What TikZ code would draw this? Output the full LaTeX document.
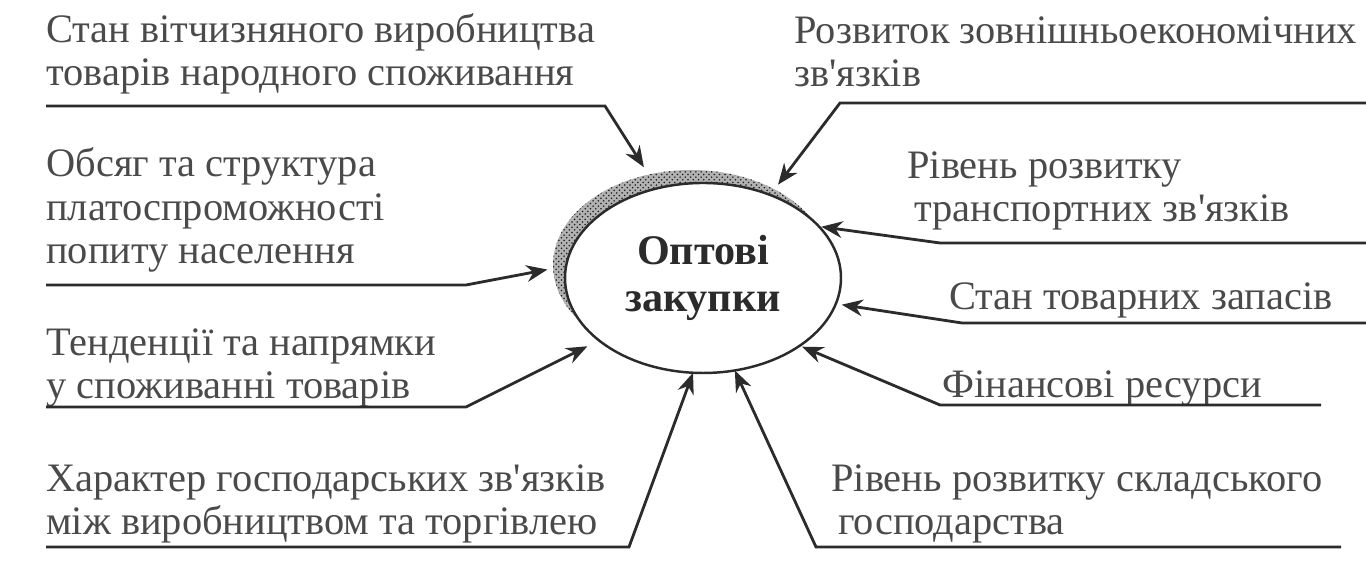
\documentclass[tikz,border=0pt]{standalone}
\usepackage{fontspec}
\setmainfont{Liberation Serif}
\usepackage{xcolor}
\usepackage{tikz}
\usetikzlibrary{positioning,arrows.meta,shapes.geometric,patterns}
\definecolor{ink}  {HTML}{2B2B2B}
\definecolor{ink2} {HTML}{4A4A4A}
\definecolor{dotc} {HTML}{1E1E1E}
\newcommand\apo{\textquotesingle}
\tikzset{
  hub/.style    = {ellipse, draw=ink, line width=1.4pt, fill=white,
                   minimum width=55.2mm, minimum height=38mm, inner sep=0pt,
                   outer sep=0pt, align=center, text=ink,
                   font=\fontsize{24}{27}\selectfont\bfseries},
  halo/.style   = {ellipse, draw=none, preaction={fill=black!30},
                   pattern=crosshatch dots, pattern color=dotc,
                   minimum width=55.2mm, minimum height=38mm, inner sep=0pt},
  factor/.style = {anchor=base west, align=left, inner sep=0pt, text=ink2,
                   font=\fontsize{23}{24.8}\selectfont},
  flow/.style   = {-{Stealth[length=12pt,width=9.5pt]}, draw=ink, line width=1.6pt},
}
\begin{document}
\begin{tikzpicture}
  \useasboundingbox (0,0) rectangle (27.32,11.24);

  % centre
  \coordinate (mid) at (14.06,5.68);
  \node[halo] (shd) at ([shift={(-0.24,0.26)}]mid) {};
  \node[hub] (ell) at (mid) {Оптові\\закупки};

  % left factors
  \node[factor] (f1) at (0.92,9.52) {Стан вітчизняного виробництва\\товарів народного споживання};
  \node[factor] (f2) at (0.92,5.96) {Обсяг та структура\\платоспроможності\\попиту населення};
  \node[factor] (f3) at (0.92,3.26) {Тенденції та напрямки\\у споживанні товарів};
  \node[factor] (f4) at (0.92,0.54) {Характер господарських зв\apo язків\\між виробництвом та торгівлею};

  % right factors
  \node[factor] (g1) at (15.88,9.50) {Розвиток зовнішньоекономічних\\зв\apo язків};
  \node[factor] (g2) at (18.14,6.80) {Рівень розвитку\\\hspace*{0.14cm}транспортних зв\apo язків};
  \node[factor] (g3) at (18.98,5.04) {Стан товарних запасів};
  \node[factor] (g4) at (18.84,3.28) {Фінансові ресурси};
  \node[factor] (g5) at (16.62,0.54) {Рівень розвитку складського\\\hspace*{0.14cm}господарства};

  % connectors, left
  \coordinate (e1) at (0.92,9.12);  \coordinate (k1) at (12.10,9.12);
  \coordinate (e2) at (0.92,5.54);  \coordinate (k2) at (9.32,5.54);
  \coordinate (e3) at (0.92,3.10);  \coordinate (k3) at (9.32,3.10);
  \coordinate (e4) at (0.92,0.30);  \coordinate (k4) at (12.58,0.30);
  \draw[flow, shorten >=0.5cm]  (e1) -- (k1) -- (ell.117);
  \draw[flow, shorten >=0.38cm] (e2) -- (k2) -- (ell.175);
  \draw[flow, shorten >=0.26cm] (e3) -- (k3) -- (ell.211);
  \draw[flow]                   (e4) -- (k4) -- (ell.264);

  % connectors, right
  \coordinate (h1) at (27.32,9.18); \coordinate (m1) at (16.80,9.18);
  \coordinate (h2) at (27.32,6.38); \coordinate (m2) at (18.80,6.38);
  \coordinate (h3) at (27.32,4.78); \coordinate (m3) at (19.24,4.78);
  \coordinate (h4) at (26.42,3.14); \coordinate (m4) at (18.80,3.14);
  \coordinate (h5) at (26.82,0.30); \coordinate (m5) at (16.32,0.30);
  \draw[flow, shorten >=0.26cm] (h1) -- (m1) -- (ell.51);
  \draw[flow, shorten >=0.05cm] (h2) -- (m2) -- (ell.24);
  \draw[flow, shorten >=0.12cm] (h3) -- (m3) -- (ell.-11);
  \draw[flow, shorten >=0.05cm] (h4) -- (m4) -- (ell.-35);
  \draw[flow]                   (h5) -- (m5) -- (ell.-71);
\end{tikzpicture}
\end{document}
